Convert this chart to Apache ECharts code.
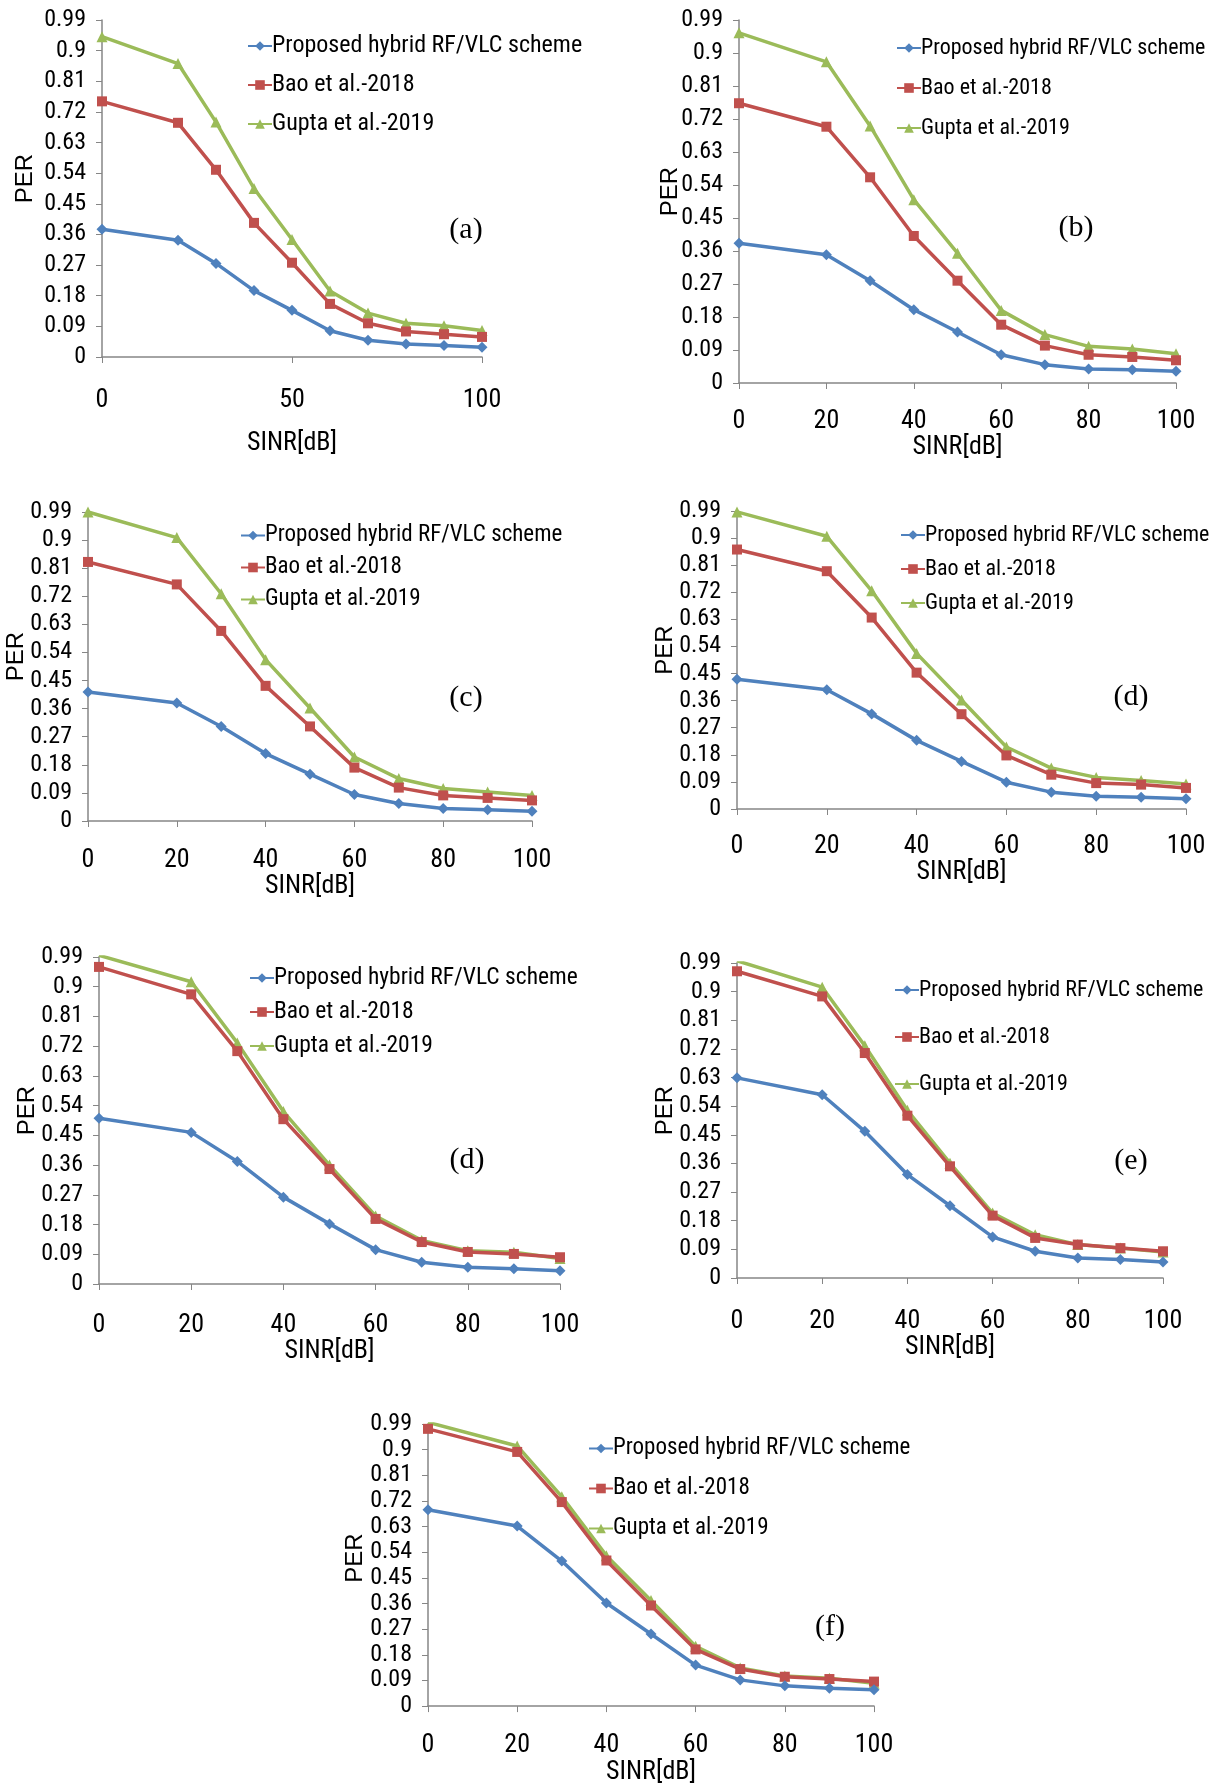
<!DOCTYPE html>
<html>
<head>
<meta charset="utf-8">
<script src="https://cdn.jsdelivr.net/npm/echarts@6/dist/echarts.min.js"></script>
<style>
  html, body { margin: 0; padding: 0; background: #fff; }
  #main { width: 1214px; height: 1786px; }
</style>
</head>
<body>
<div id="main"></div>
<script>
// SINR points shared by every panel
var sinr = [0, 20, 30, 40, 50, 60, 70, 80, 90, 100];
var seriesNames = ['Proposed hybrid RF/VLC scheme', 'Bao et al.-2018', 'Gupta et al.-2019'];

// (a)
var proposedA = [0.375, 0.343, 0.275, 0.195, 0.137, 0.077, 0.049, 0.038, 0.034, 0.029];
var baoA      = [0.751, 0.688, 0.550, 0.394, 0.277, 0.156, 0.099, 0.075, 0.067, 0.059];
var guptaA    = [0.941, 0.862, 0.690, 0.495, 0.345, 0.194, 0.129, 0.099, 0.092, 0.078];
// (b)
var proposedB = [0.381, 0.350, 0.279, 0.200, 0.139, 0.077, 0.050, 0.038, 0.036, 0.032];
var baoB      = [0.763, 0.699, 0.561, 0.401, 0.279, 0.159, 0.102, 0.077, 0.071, 0.062];
var guptaB    = [0.955, 0.876, 0.701, 0.500, 0.354, 0.198, 0.132, 0.100, 0.093, 0.080];
// (c)
var proposedC = [0.413, 0.378, 0.303, 0.216, 0.150, 0.085, 0.056, 0.040, 0.036, 0.031];
var baoC      = [0.830, 0.758, 0.609, 0.433, 0.303, 0.171, 0.107, 0.082, 0.074, 0.066];
var guptaC    = [0.990, 0.908, 0.728, 0.517, 0.362, 0.205, 0.136, 0.104, 0.093, 0.082];
// (d) right
var proposedD = [0.431, 0.396, 0.316, 0.228, 0.158, 0.089, 0.056, 0.042, 0.039, 0.034];
var baoD      = [0.862, 0.790, 0.636, 0.453, 0.315, 0.178, 0.114, 0.086, 0.081, 0.070];
var guptaD    = [0.987, 0.906, 0.725, 0.517, 0.362, 0.206, 0.136, 0.105, 0.095, 0.083];
// (d) second one, left
var proposedD2 = [0.502, 0.459, 0.371, 0.263, 0.182, 0.104, 0.066, 0.051, 0.046, 0.040];
var baoD2      = [0.960, 0.877, 0.705, 0.499, 0.348, 0.197, 0.127, 0.097, 0.091, 0.081];
var guptaD2    = [0.995, 0.915, 0.730, 0.522, 0.360, 0.206, 0.132, 0.101, 0.096, 0.077];
// (e)
var proposedE = [0.629, 0.576, 0.461, 0.325, 0.227, 0.129, 0.084, 0.063, 0.058, 0.050];
var baoE      = [0.964, 0.885, 0.707, 0.510, 0.351, 0.196, 0.126, 0.105, 0.094, 0.084];
var guptaE    = [0.997, 0.914, 0.730, 0.527, 0.361, 0.204, 0.136, 0.105, 0.094, 0.082];
// (f)
var proposedF = [0.689, 0.632, 0.509, 0.362, 0.253, 0.144, 0.092, 0.071, 0.063, 0.057];
var baoF      = [0.973, 0.892, 0.716, 0.511, 0.353, 0.199, 0.130, 0.103, 0.095, 0.086];
var guptaF    = [0.996, 0.913, 0.735, 0.528, 0.371, 0.210, 0.134, 0.106, 0.098, 0.080];

var colors = ['#4F81BD', '#C0504D', '#9BBB59'];
var symbols = ['diamond', 'rect', 'triangle'];
var symbolSizes = [11, 10, 11];
var narrow = "'Liberation Sans Narrow', 'Roboto Condensed', 'DejaVu Sans Condensed', sans-serif";

// layout of each panel (pixels)
var panels = [
  {tag: '(a)', data: [proposedA, baoA, guptaA], left: 102, right: 482, top: 20, bottom: 357, xStep: 50, xMargin: 30, xGap: 73,
   perX: 25, lgLeft: 242, lgTop: 29, lgGap: 15, lgFont: 24, tagX: 466, tagY: 230},
  {tag: '(b)', data: [proposedB, baoB, guptaB], left: 739, right: 1176, top: 20, bottom: 383, xStep: 20, xMargin: 25, xGap: 47,
   perX: 670, lgLeft: 891, lgTop: 32, lgGap: 18, lgFont: 22, tagX: 1076, tagY: 228},
  {tag: '(c)', data: [proposedC, baoC, guptaC], left: 88, right: 532, top: 512, bottom: 821, xStep: 20, xMargin: 26, xGap: 47,
   perX: 16, lgLeft: 235, lgTop: 519, lgGap: 9, lgFont: 23, tagX: 466, tagY: 698},
  {tag: '(d)', data: [proposedD, baoD, guptaD], left: 737, right: 1186, top: 511, bottom: 809, xStep: 20, xMargin: 24, xGap: 48,
   perX: 665, lgLeft: 895, lgTop: 519, lgGap: 12, lgFont: 22, tagX: 1131, tagY: 697},
  {tag: '(d)', data: [proposedD2, baoD2, guptaD2], left: 99, right: 560, top: 957, bottom: 1284, xStep: 20, xMargin: 28, xGap: 48,
   perX: 27, lgLeft: 244, lgTop: 961, lgGap: 10, lgFont: 23.5, tagX: 467, tagY: 1160},
  {tag: '(e)', data: [proposedE, baoE, guptaE], left: 737, right: 1163, top: 963, bottom: 1278, xStep: 20, xMargin: 30, xGap: 54,
   perX: 665, lgLeft: 889, lgTop: 974, lgGap: 25, lgFont: 22, tagX: 1131, tagY: 1161},
  {tag: '(f)', data: [proposedF, baoF, guptaF], left: 428, right: 874, top: 1424, bottom: 1712, xStep: 20, xMargin: 26, xGap: 48,
   perX: 355, lgLeft: 583, lgTop: 1432, lgGap: 17, lgFont: 23, tagX: 830, tagY: 1627}
];

var grid = [], xAxis = [], yAxis = [], series = [], legend = [], graphic = [];
panels.forEach(function (p, i) {
  grid.push({left: p.left, top: p.top, width: p.right - p.left, height: p.bottom - p.top});
  xAxis.push({
    type: 'value', gridIndex: i, min: 0, max: 100, interval: p.xStep,
    name: 'SINR[dB]', nameLocation: 'middle', nameGap: p.xGap,
    nameTextStyle: {fontFamily: narrow, fontSize: 26, color: '#000', verticalAlign: 'top'},
    axisLine: {lineStyle: {color: '#868686', width: 1.5}},
    axisTick: {show: true, length: 6, lineStyle: {color: '#868686'}},
    axisLabel: {fontFamily: narrow, fontSize: 26, color: '#000', margin: p.xMargin,
      showMinLabel: true, showMaxLabel: true, hideOverlap: false},
    splitLine: {show: false}
  });
  yAxis.push({
    type: 'value', gridIndex: i, min: 0, max: 0.99, interval: 0.09,
    axisLine: {show: true, lineStyle: {color: '#868686', width: 1.5}},
    axisTick: {show: true, length: 6, lineStyle: {color: '#868686'}},
    axisLabel: {fontFamily: narrow, fontSize: 24, color: '#000', margin: 16,
      showMinLabel: true, showMaxLabel: true, hideOverlap: false,
      formatter: function (v) { return String(+v.toFixed(2)); }},
    splitLine: {show: false}
  });
  p.data.forEach(function (vals, k) {
    series.push({
      type: 'line', name: seriesNames[k], xAxisIndex: i, yAxisIndex: i,
      data: sinr.map(function (x, j) { return [x, vals[j]]; }),
      symbol: symbols[k], symbolSize: symbolSizes[k],
      itemStyle: {color: colors[k]},
      lineStyle: {color: colors[k], width: 3.5},
      z: 3 - k
    });
  });
  legend.push({
    orient: 'vertical', left: p.lgLeft, top: p.lgTop, itemGap: p.lgGap,
    itemWidth: 24, itemHeight: 12, selectedMode: false,
    data: seriesNames,
    textStyle: {fontFamily: narrow, fontSize: p.lgFont, color: '#000', padding: [0, 0, 0, -5]}
  });
  graphic.push({
    type: 'text', x: p.tagX, y: p.tagY, z: 10,
    style: {text: p.tag, font: '30px "Liberation Serif", serif', fill: '#000', align: 'center', verticalAlign: 'middle'}
  });
  graphic.push({
    type: 'text', x: p.perX, y: (p.top + p.bottom) / 2 - 10, rotation: Math.PI / 2, z: 10,
    style: {text: 'PER', font: '24px "Liberation Sans", Arial, sans-serif', fill: '#000', align: 'center', verticalAlign: 'middle'}
  });
});

var chart = echarts.init(document.getElementById('main'), null, {renderer: 'canvas'});
chart.setOption({
  animation: false,
  backgroundColor: '#fff',
  grid: grid, xAxis: xAxis, yAxis: yAxis, series: series, legend: legend, graphic: graphic
});
</script>
</body>
</html>
